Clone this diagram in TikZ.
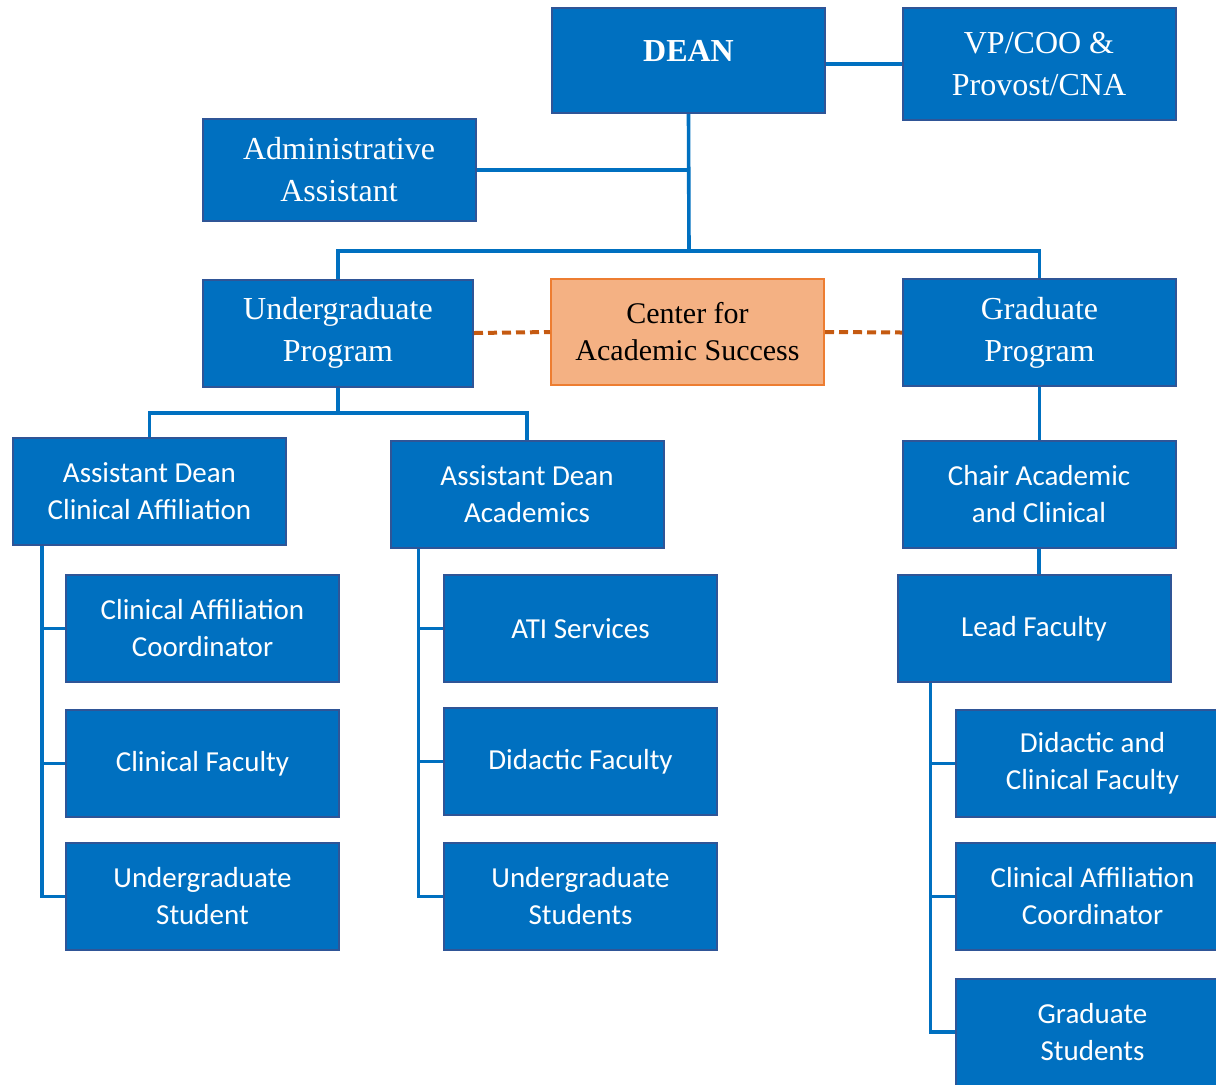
\documentclass[tikz,border=0pt]{standalone}
\usepackage{fontspec}
\setmainfont{Liberation Serif}
\newfontfamily\calfont{Carlito}
\definecolor{blu}{HTML}{0070C0}
\definecolor{bdr}{HTML}{2F5597}
\definecolor{ofill}{HTML}{F4B183}
\definecolor{obdr}{HTML}{ED7D31}
\definecolor{odash}{HTML}{C55A11}
\begin{document}
\begin{tikzpicture}[x=0.5pt,y=-0.5pt,
  box/.style={draw=bdr, fill=blu, line width=1pt, text=white, inner sep=0pt, align=center,
    minimum width=136.5pt, minimum height=53.5pt},
  serif/.style={font=\fontsize{16}{21}\selectfont},
  cal/.style={font=\calfont\fontsize{14.5}{18.5}\selectfont},
  conn/.style={draw=blu, line width=1.8pt},
  dashconn/.style={draw=odash, line width=2pt, dash pattern=on 4.5pt off 2.5pt}]
\useasboundingbox (0,0) rectangle (1216,1084);
\clip (0,0) rectangle (1216,1084);
% top level
\node[box, minimum height=52.5pt] (dean) at (688.5,60.5) {};
\node[text=white, font=\bfseries\fontsize{16}{21}\selectfont, inner sep=0pt] (deant) at ([yshift=5pt]dean.center) {DEAN};
\node[box, serif, minimum height=56pt] (vp) at (1039,64) {VP/COO \&\\Provost/CNA};
\node[box, serif, minimum height=51pt] (admin) at (339,170) {Administrative\\Assistant};
% second level
\node[box, serif, minimum width=135pt] (ugp) at (338,333) {Undergraduate\\Program};
\node[draw=obdr, fill=ofill, line width=1pt, inner sep=0pt, align=center, minimum width=136.5pt,
  minimum height=53pt, font=\fontsize{15}{18.5}\selectfont] (cas) at (687.5,332) {Center for\\Academic Success};
\node[box, serif] (gp) at (1039.5,332.5) {Graduate\\Program};
% third level
\node[box, cal] (adc) at (149.5,491.5) {Assistant Dean\\Clinical Affiliation};
\node[box, cal] (ada) at (527,494.5) {Assistant Dean\\Academics};
\node[box, cal] (chair) at (1039,494.5) {Chair Academic\\and Clinical};
\node[box, cal] (lead) at (1034,628.5) {Lead Faculty};
% left column
\node[box, cal] (cac) at (202.5,628.5) {Clinical Affiliation\\Coordinator};
\node[box, cal] (cf) at (202.5,763.5) {Clinical Faculty};
\node[box, cal] (ugs) at (202.5,896.5) {Undergraduate\\Student};
% middle column
\node[box, cal] (ati) at (580.5,628.5) {ATI Services};
\node[box, cal] (df) at (580.5,761.5) {Didactic Faculty};
\node[box, cal] (ugss) at (580.5,896.5) {Undergraduate\\Students};
% right column
\node[box, cal] (dcf) at (1092.5,763.5) {Didactic and\\Clinical Faculty};
\node[box, cal] (cacr) at (1092.5,896.5) {Clinical Affiliation\\Coordinator};
\node[box, cal] (gs) at (1092.5,1032) {Graduate\\Students};
% connectors
\coordinate (bar) at (689,251);
\coordinate (ubar) at (340,413);
\draw[conn] (vp.west -| dean.east) -- (vp.west);
\draw[conn] (dean.south) -- (bar);
\draw[conn] (admin.east) -- (admin.east -| dean.south);
\draw[conn] (ugp.north) |- (bar) -| (gp.north);
\draw[dashconn] (ugp.east) -- (cas.west);
\draw[dashconn] (cas.east) -- (gp.west);
\draw[conn] (ugp.south) -- (ugp.south |- ubar);
\draw[conn] (adc.north) |- (ubar) -| (ada.north);
\draw[conn] (gp.south) -- (gp.south |- chair.north);
\draw[conn] (chair.south) -- (chair.south |- lead.north);
% rails
\coordinate (lrail) at ([xshift=15pt]adc.south west);
\coordinate (mrail) at ([xshift=14.5pt]ada.south west);
\coordinate (rrail) at ([xshift=17pt]lead.south west);
\draw[conn] (lrail) |- (ugs.west);
\draw[conn] (cac.west) -- (cac.west -| lrail);
\draw[conn] (cf.west) -- (cf.west -| lrail);
\draw[conn] (mrail) |- (ugss.west);
\draw[conn] (ati.west) -- (ati.west -| mrail);
\draw[conn] (df.west) -- (df.west -| mrail);
\draw[conn] (rrail) |- (gs.west);
\draw[conn] (dcf.west) -- (dcf.west -| rrail);
\draw[conn] (cacr.west) -- (cacr.west -| rrail);
\end{tikzpicture}
\end{document}
